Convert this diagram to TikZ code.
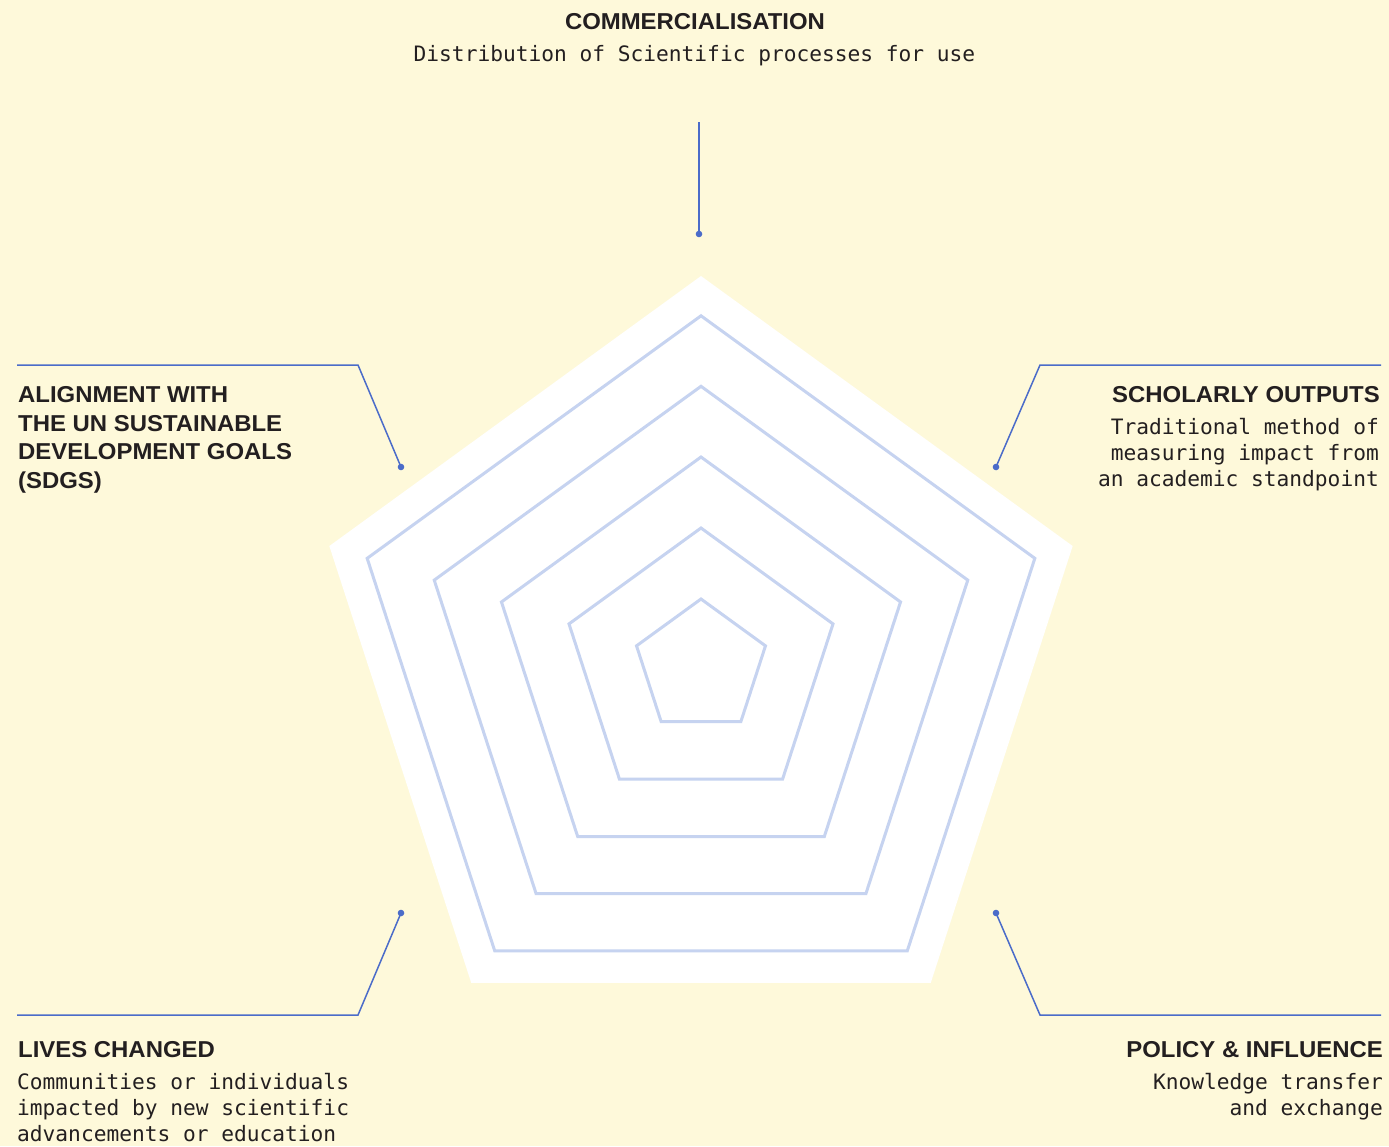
\documentclass[tikz,border=0pt]{standalone}
\usepackage{fontspec}
\setmainfont{Liberation Sans}
\newfontfamily\titlefont{Liberation Sans}[FakeStretch=1.04]
\newfontfamily\monofont{DejaVu Sans Mono}
\definecolor{bgc}{HTML}{FEF9DA}
\definecolor{ringc}{HTML}{C6D3F0}
\definecolor{linkc}{HTML}{4B6CC9}
\definecolor{txtc}{HTML}{231F20}
\tikzset{
  ttl/.style={inner sep=0pt, text=txtc, font=\titlefont\fontsize{23}{28.4}\selectfont\bfseries},
  dsc/.style={inner sep=0pt, text=txtc, font=\monofont\fontsize{21.2}{25.7}\selectfont},
  ring/.style={draw=ringc, line width=3pt, line join=miter},
  link/.style={draw=linkc, line width=1.5pt},
  dot/.style={fill=linkc}
}
\begin{document}
\begin{tikzpicture}[x=1pt,y=-1pt]
\fill[bgc] (0,0) rectangle (1389,1146);
\useasboundingbox (0,0) rectangle (1389,1146);
% radar pentagons
\begin{scope}[shift={(701,666.8)}, y=1pt]
  \fill[white] (90:390.8) -- (18:390.8) -- (-54:390.8) -- (-126:390.8) -- (162:390.8) -- cycle;
  \foreach \r in {351,280.5,209.8,138.8,67.8}
    \draw[ring] (90:\r) -- (18:\r) -- (-54:\r) -- (-126:\r) -- (162:\r) -- cycle;
\end{scope}
% connector points
\coordinate (tA) at (699,122);
\coordinate (tB) at (699,234);
\coordinate (lA) at (17,365);
\coordinate (lK) at (358,365);
\coordinate (lB) at (401,467);
\coordinate (rA) at (1381,365);
\coordinate (rK) at (1040,365);
\coordinate (rB) at (996,467);
\coordinate (blA) at (17,1015);
\coordinate (blK) at (358,1015);
\coordinate (blB) at (401,913);
\coordinate (brA) at (1381,1015);
\coordinate (brK) at (1040,1015);
\coordinate (brB) at (996,913);
\draw[link] (tA) -- (tB);
\draw[link] (lA) -- (lK) -- (lB);
\draw[link] (rA) -- (rK) -- (rB);
\draw[link] (blA) -- (blK) -- (blB);
\draw[link] (brA) -- (brK) -- (brB);
\foreach \p in {tB,lB,rB,blB,brB} \fill[dot] (\p) circle (3.3pt);
% texts (multi-line nodes: base anchor = baseline of last line)
\node[ttl, anchor=base] (comm) at (695,29) {COMMERCIALISATION};
\node[dsc, anchor=base] (commd) at (694.5,61) {Distribution of Scientific processes for use};
\node[ttl, anchor=base west, align=left] (sdg) at (18,488) {ALIGNMENT WITH\\THE UN SUSTAINABLE\\DEVELOPMENT GOALS\\(SDGS)};
\node[ttl, anchor=base east] (sch) at (1380,402) {SCHOLARLY OUTPUTS};
\node[dsc, anchor=base east, align=right] (schd) at (1379,486) {Traditional method of\\measuring impact from\\an academic standpoint};
\node[ttl, anchor=base west] (lives) at (18,1057) {LIVES CHANGED};
\node[dsc, anchor=base west, align=left] (livesd) at (17,1141) {Communities or individuals\\impacted by new scientific\\advancements or education};
\node[ttl, anchor=base east] (pol) at (1383,1057) {POLICY \& INFLUENCE};
\node[dsc, anchor=base east, align=right] (pold) at (1383,1115) {Knowledge transfer\\and exchange};
\end{tikzpicture}
\end{document}
